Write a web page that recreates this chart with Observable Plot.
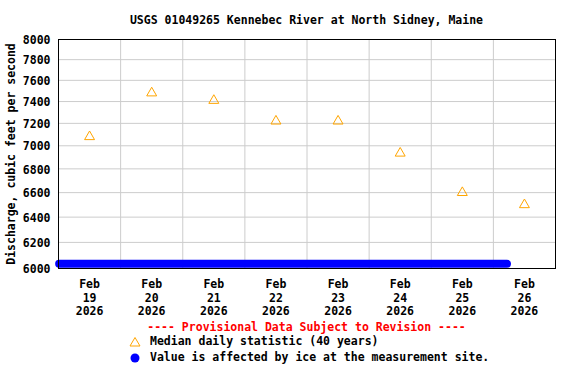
<!DOCTYPE html>
<html>
<head>
<meta charset="utf-8">
<script src="https://cdn.jsdelivr.net/npm/d3@7"></script>
<script src="https://cdn.jsdelivr.net/npm/@observablehq/plot@0.6"></script>
<style>
  body { margin: 0; background: #fff; width: 576px; height: 384px; position: relative; overflow: hidden;
         font-family: "DejaVu Sans Mono", monospace; font-weight: bold; font-size: 11.5px; color: #000; }
  #title { position: absolute; left: 58px; width: 497px; top: 12px; text-align: center; line-height: 16px; }
  #chart { position: absolute; left: 0; top: 30px; }
  #prov { position: absolute; left: 58px; width: 497px; top: 319px; text-align: center; color: #ff0000; line-height: 16px; }
  .leg { position: absolute; left: 129px; line-height: 15px; white-space: pre; }
  .leg svg { vertical-align: middle; margin-right: 9px; }
</style>
</head>
<body>
<div id="title"></div>
<div id="chart"></div>
<div id="prov"></div>
<div class="leg" id="leg1" style="top:334px"></div>
<div class="leg" id="leg2" style="top:350px"></div>
<script>
// ---- data ----
const title = "USGS 01049265 Kennebec River at North Sidney, Maine";
const yLabel = "Discharge, cubic feet per second";
const provisional = "---- Provisional Data Subject to Revision ----";
const medianLabel = "Median daily statistic (40 years)";
const iceLabel = "Value is affected by ice at the measurement site.";

const medianDates = ["2026-02-19T12:00Z","2026-02-20T12:00Z","2026-02-21T12:00Z","2026-02-22T12:00Z",
                     "2026-02-23T12:00Z","2026-02-24T12:00Z","2026-02-25T12:00Z","2026-02-26T12:00Z"];
const medianValues = [7080, 7480, 7410, 7220, 7220, 6935, 6600, 6500];

const iceDates = ["2026-02-19T00:15Z", "2026-02-26T05:15Z"];
const iceValues = [6035, 6035];

const yTicks = [6000, 6200, 6400, 6600, 6800, 7000, 7200, 7400, 7600, 7800, 8000];
const yTickLabels = ["6000", "6200", "6400", "6600", "6800", "7000", "7200", "7400", "7600", "7800", "8000"];
const xDomain = ["2026-02-19T00:00Z", "2026-02-27T00:00Z"];
const xGridDates = ["2026-02-20T00:00Z","2026-02-21T00:00Z","2026-02-22T00:00Z","2026-02-23T00:00Z",
                    "2026-02-24T00:00Z","2026-02-25T00:00Z","2026-02-26T00:00Z"];

// ---- build ----
const median = medianDates.map((d, i) => ({date: new Date(d), value: medianValues[i]}));
const ice = iceDates.map((d, i) => ({date: new Date(d), value: iceValues[i]}));
const yTickData = yTicks.map((v, i) => ({value: v, label: yTickLabels[i]}));
const fmt = d3.utcFormat("%b\n%-d\n%Y");

const chart = Plot.plot({
  width: 576,
  height: 290,
  marginLeft: 58,
  marginRight: 21,
  marginTop: 9,
  marginBottom: 52,
  style: {fontFamily: "DejaVu Sans Mono", fontSize: "11.5px", fontWeight: "bold", color: "#000", background: "#fff"},
  x: {type: "utc", domain: xDomain.map(d => new Date(d))},
  y: {type: "log", domain: [6000, 8000]},
  marks: [
    Plot.gridY(yTicks.slice(1, -1), {stroke: "#cccccc", strokeOpacity: 1, strokeWidth: 1}),
    Plot.gridX(xGridDates.map(d => new Date(d)), {stroke: "#cccccc", strokeOpacity: 1, strokeWidth: 1}),
    Plot.line(ice, {x: "date", y: "value", stroke: "#0000ff", strokeWidth: 8, strokeLinecap: "round"}),
    Plot.dot(median, {x: "date", y: "value", symbol: "triangle", r: 3.7, stroke: "#ffa500", fill: "none", strokeWidth: 1}),
    Plot.frame({stroke: "#000", strokeWidth: 1}),
    Plot.text(yTickData, {x: null, y: "value", text: "label", frameAnchor: "left", textAnchor: "end", dx: -8, dy: 1, fill: "#000"}),
    Plot.axisY({ticks: [], tickSize: 0, label: yLabel, labelAnchor: "center", labelArrow: "none", labelOffset: 52}),
    Plot.axisX(medianDates.map(d => new Date(d)), {tickSize: 0, tickPadding: 10, tickFormat: fmt,
      label: null, lineHeight: 1.17, fill: "#000"})
  ]
});
document.getElementById("chart").append(chart);
document.getElementById("title").textContent = title;
document.getElementById("prov").textContent = provisional;
document.getElementById("leg1").innerHTML =
  '<svg width="12" height="12"><path d="M6,1.5 L11,10 L1,10 Z" fill="none" stroke="#ffa500" stroke-width="1"/></svg>';
document.getElementById("leg1").append(medianLabel);
document.getElementById("leg2").innerHTML =
  '<svg width="12" height="12"><circle cx="6" cy="6" r="4.5" fill="#0000ff"/></svg>';
document.getElementById("leg2").append(iceLabel);
</script>
</body>
</html>
